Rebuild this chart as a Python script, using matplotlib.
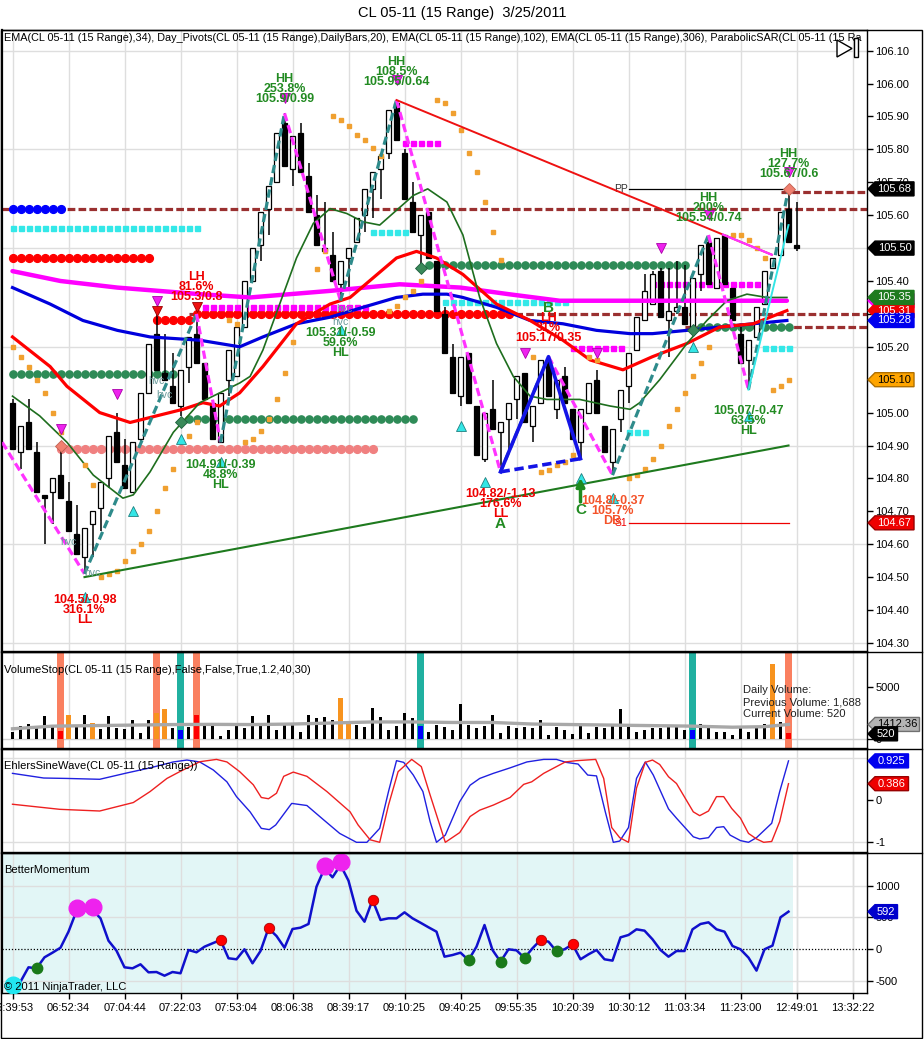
import numpy as np
import matplotlib
matplotlib.use("Agg")
import matplotlib.pyplot as plt
from matplotlib.transforms import blended_transform_factory, IdentityTransform
from matplotlib.patches import Polygon, Rectangle
from matplotlib.lines import Line2D

plt.rcParams['font.family'] = ['Liberation Sans', 'DejaVu Sans']

# ---------------- data ----------------
opens = [105.03, 104.88, 104.97, 104.88, 104.75, 104.76, 104.81, 104.73, 104.63, 104.56,
         104.66, 104.71, 104.80, 104.94, 104.84, 104.76, 104.92, 105.06, 105.24, 105.12,
         105.08, 105.02, 105.14, 105.24, 105.15, 105.03, 104.91, 105.10, 105.11, 105.26,
         105.40, 105.51, 105.62, 105.70, 105.88, 105.74, 105.85, 105.72, 105.60, 105.50,
         105.48, 105.39, 105.47, 105.52, 105.60, 105.68, 105.74, 105.79, 105.94, 105.79,
         105.64, 105.54, 105.61, 105.46, 105.30, 105.17, 105.05, 105.18, 105.02, 104.86,
         105.01, 104.94, 104.98, 105.04, 105.12, 104.96, 105.03, 105.16, 105.01, 105.11,
         105.01, 104.91, 105.00, 105.10, 104.96, 104.85, 104.98, 105.08, 105.19, 105.28,
         105.33, 105.43, 105.28, 105.31, 105.32, 105.25, 105.42, 105.52, 105.38, 105.54,
         105.38, 105.24, 105.16, 105.23, 105.33, 105.44, 105.48, 105.62, 105.51]
highs = [105.04, 104.96, 105.04, 104.91, 104.75, 104.80, 104.91, 104.79, 104.72, 104.65,
         104.70, 104.79, 104.93, 105.00, 104.92, 104.91, 105.06, 105.21, 105.30, 105.24,
         105.18, 105.13, 105.23, 105.30, 105.15, 105.03, 105.06, 105.19, 105.26, 105.40,
         105.50, 105.61, 105.69, 105.85, 105.91, 105.84, 105.88, 105.76, 105.66, 105.64,
         105.55, 105.46, 105.50, 105.59, 105.68, 105.73, 105.78, 105.92, 105.95, 105.80,
         105.70, 105.60, 105.61, 105.46, 105.32, 105.21, 105.17, 105.18, 105.02, 105.00,
         105.10, 104.97, 105.03, 105.11, 105.12, 105.02, 105.16, 105.17, 105.10, 105.14,
         105.01, 105.01, 105.09, 105.13, 104.96, 104.95, 105.07, 105.18, 105.29, 105.42,
         105.43, 105.44, 105.44, 105.46, 105.45, 105.41, 105.51, 105.54, 105.53, 105.54,
         105.38, 105.26, 105.22, 105.32, 105.43, 105.47, 105.61, 105.68, 105.64]
lows = [104.89, 104.83, 104.89, 104.76, 104.60, 104.66, 104.74, 104.64, 104.57, 104.51,
        104.56, 104.64, 104.77, 104.85, 104.77, 104.76, 104.91, 105.06, 105.13, 105.10,
        105.03, 104.99, 105.09, 105.15, 105.04, 104.92, 104.91, 105.05, 105.11, 105.26,
        105.40, 105.46, 105.54, 105.70, 105.75, 105.69, 105.73, 105.61, 105.51, 105.49,
        105.40, 105.34, 105.38, 105.52, 105.55, 105.59, 105.65, 105.77, 105.83, 105.65,
        105.55, 105.45, 105.47, 105.31, 105.18, 105.06, 105.02, 105.03, 104.87, 104.85,
        104.95, 104.82, 104.88, 104.98, 104.97, 104.91, 105.03, 105.05, 104.98, 105.03,
        104.92, 104.86, 105.00, 105.00, 104.88, 104.81, 104.94, 105.03, 105.19, 105.28,
        105.33, 105.29, 105.17, 105.30, 105.27, 105.25, 105.37, 105.39, 105.38, 105.39,
        105.28, 105.15, 105.07, 105.23, 105.33, 105.44, 105.48, 105.52, 105.49]
closes = [104.89, 104.96, 104.89, 104.76, 104.74, 104.80, 104.74, 104.64, 104.57, 104.65,
          104.70, 104.79, 104.93, 104.85, 104.77, 104.91, 105.06, 105.21, 105.13, 105.10,
          105.03, 105.13, 105.23, 105.15, 105.04, 104.92, 105.06, 105.19, 105.26, 105.40,
          105.50, 105.61, 105.69, 105.85, 105.75, 105.84, 105.73, 105.61, 105.51, 105.49,
          105.40, 105.46, 105.50, 105.59, 105.68, 105.73, 105.78, 105.92, 105.83, 105.65,
          105.55, 105.60, 105.47, 105.31, 105.18, 105.06, 105.17, 105.03, 104.87, 105.00,
          104.95, 104.97, 105.03, 105.11, 104.97, 105.02, 105.16, 105.05, 105.10, 105.03,
          104.92, 105.01, 105.09, 105.00, 104.88, 104.95, 105.07, 105.18, 105.29, 105.37,
          105.42, 105.29, 105.31, 105.32, 105.27, 105.41, 105.51, 105.39, 105.53, 105.39,
          105.28, 105.15, 105.22, 105.32, 105.43, 105.47, 105.61, 105.52, 105.50]

time_labels = ['06:39:53', '06:52:34', '07:04:44', '07:22:03', '07:53:04', '08:06:38',
               '08:39:17', '09:10:25', '09:40:25', '09:55:35', '10:20:39', '10:30:12',
               '11:03:34', '11:23:00', '12:49:01', '13:32:22']
label_step = 7

# moving averages (bar, value)
ema34_x = [0, 3.4, 6.8, 10.1, 13.8, 15.1, 17.2, 20.1, 23.4, 25.9, 28.4, 29.7, 31.3, 33.4, 35.5, 37.6,
           39.7, 41.8, 43.8, 45.9, 48, 50.1, 51.9, 54.3, 56.3, 58.4, 60.5, 62.6, 64.7, 66.8, 70.9,
           74.7, 77.2, 78.4, 80.9, 84.3, 86.8, 89.3, 91.8, 94.3, 96.8]
ema34_y = [105.05, 104.99, 104.91, 104.81, 104.74, 104.75, 104.82, 104.94, 105.03, 105.06, 105.09,
           105.11, 105.19, 105.33, 105.47, 105.575, 105.62, 105.605, 105.58, 105.57, 105.615, 105.66,
           105.68, 105.64, 105.54, 105.35, 105.21, 105.11, 105.05, 105.04, 105.04, 105.02, 105.01,
           105.03, 105.10, 105.21, 105.28, 105.34, 105.36, 105.35, 105.35]
ema102_x = [0, 4.7, 6.8, 10.9, 14.7, 18, 21.3, 23.8, 25.9, 28.4, 31.3, 35.5, 39.7, 42.2, 45.1, 48,
            50.5, 53, 56.3, 60.5, 64.7, 68.8, 72.2, 76.3, 80, 84.3, 88.4, 92.6, 96.8]
ema102_y = [105.23, 105.14, 105.08, 105.00, 104.97, 104.99, 105.01, 105.03, 105.02, 105.06, 105.14,
            105.27, 105.33, 105.35, 105.41, 105.47, 105.49, 105.47, 105.42, 105.33, 105.28, 105.22,
            105.16, 105.13, 105.17, 105.21, 105.26, 105.27, 105.31]
ema306_x = [0, 4.7, 8.8, 13.1, 17.2, 23.4, 28.4, 31.3, 35.5, 39.7, 43.8, 48, 51.3, 54.3, 56.3, 60.5,
            64.7, 68.8, 73, 77.2, 80, 84.3, 88.4, 92.6, 96.8]
ema306_y = [105.38, 105.33, 105.28, 105.25, 105.23, 105.22, 105.20, 105.23, 105.27, 105.29, 105.32,
            105.35, 105.36, 105.36, 105.35, 105.32, 105.28, 105.27, 105.25, 105.24, 105.24, 105.25,
            105.26, 105.27, 105.28]
emaM_x = [0, 6, 13.1, 23.4, 29.7, 39.7, 48.4, 56, 62, 68.4, 76, 86, 96.8]
emaM_y = [105.43, 105.40, 105.38, 105.36, 105.35, 105.37, 105.39, 105.38, 105.36, 105.34, 105.34,
          105.34, 105.34]

sar_bars = [0, 1, 2, 3, 4, 5, 6, 9, 10, 11, 12, 13, 14, 15, 16, 17, 18, 19, 20, 22, 23, 27, 28,
            29, 30, 31, 32, 33, 34, 35, 38, 39, 40, 41, 42, 43, 44, 45, 46, 47, 48, 49, 50, 51,
            53, 54, 55, 56, 57, 58, 59, 60, 61, 65, 66, 67, 68, 69, 70, 72, 73, 77, 78, 79, 80,
            81, 82, 83, 84, 85, 86, 87, 90, 91, 92, 93, 94, 95, 96, 97]
sar_vals = [105.20, 105.17, 105.14, 105.10, 105.06, 105.00, 104.94, 104.84, 104.78, 104.50, 104.51,
            104.52, 104.55, 104.58, 104.60, 104.64, 104.70, 104.77, 104.83, 104.93, 104.97, 105.28,
            105.27, 104.91, 104.92, 104.945, 104.98, 105.04, 105.12, 105.215, 105.435, 105.49,
            105.90, 105.89, 105.87, 105.845, 105.83, 105.805, 105.78, 105.31, 105.325, 105.35,
            105.37, 105.40, 105.95, 105.94, 105.91, 105.86, 105.79, 105.73, 105.64, 105.55, 105.465,
            105.17, 104.82, 104.825, 104.84, 104.85, 104.87, 105.17, 105.16, 104.80, 104.81, 104.83,
            104.86, 104.90, 104.96, 105.01, 105.06, 105.11, 105.15, 105.20, 105.54, 105.54, 105.525,
            105.50, 105.47, 105.07, 105.08, 105.10]

# zigzag swing points
swing_bars = [-1.3, 9, 23, 26, 34, 41, 48, 61, 67, 75, 87, 92, 97]
swing_prices = [104.91, 104.51, 105.30, 104.91, 105.91, 105.34, 105.95, 104.82, 105.17, 104.81,
                105.54, 105.07, 105.68]
abc_bars = [61, 67, 71]
abc_prices = [104.82, 105.17, 104.86]
res_line_bars = [48, 94.9]
res_line_prices = [105.95, 105.48]
sup_line_bars = [9, 97]
sup_line_prices = [104.50, 104.90]

# horizontal level dots: (first bar, last bar, price)
blue_dots = [(0, 6, 105.62)]
red_dots = [(0, 17, 105.47), (18, 22, 105.28), (23, 62, 105.30)]
green_dots = [(0, 20, 105.117), (22, 50, 104.98), (52, 84, 105.45), (86, 97, 105.26)]
coral_dots = [(6, 45, 104.89)]
cyan_sq = [(0, 23, 105.56), (45, 49, 105.55), (54, 69, 105.335), (77, 79, 104.94), (94, 97, 105.195)]
magenta_sq = [(24, 44, 105.32), (49, 53, 105.82), (70, 76, 105.195), (80, 93, 105.39)]
pivot_dashes = [(-1.3, 106.8, 105.62), (96, 106.8, 105.67), (22, 106.8, 105.30), (84, 106.8, 105.26)]
pp_level = 105.68
s1_level = 104.665
pp_range = (77, 97)

tri_down_magenta = [(6, 104.95), (13, 105.057), (18, 105.34), (34, 105.955), (48, 106.01),
                    (64, 105.18), (73, 105.18), (81, 105.50), (87, 105.60), (97, 105.73)]
tri_down_red = [(18, 105.31), (23, 105.32)]
tri_up_cyan = [(9, 104.44), (15, 104.70), (21, 104.92), (26, 104.85), (41, 105.25), (56, 104.96),
               (59, 104.79), (71, 104.80), (75, 104.74), (85, 105.20), (92, 104.99)]
diam_green = [(21, 104.97), (51, 105.44), (85, 105.25)]
diam_pink = [(6, 104.90), (97, 105.68)]

volumes = [650, 1235, 1420, 1080, 2250, 1330, 770, 2350, 1330, 2350,
           1510, 960, 2250, 1110, 960, 1790, 620, 1790, 2470, 2870,
           1080, 865, 1170, 2280, 1450, 1420, 340, 865, 1420, 1110,
           2250, 1480, 2350, 865, 1540, 1420, 650, 2350, 2070, 2130,
           1880, 3950, 1640, 1330, 1170, 2960, 2100, 865, 1235, 2500,
           2070, 1265, 650, 1330, 1170, 865, 3330, 1390, 1080, 1265,
           2350, 620, 1235, 1080, 1170, 1080, 1790, 400, 1170, 865,
           460, 1330, 620, 1170, 1080, 1480, 2870, 1170, 650, 865,
           1080, 1110, 1265, 1265, 865, 865, 1420, 1330, 650, 710,
           400, 1235, 650, 1170, 1480, 7190, 1640, 620]
vol_orange = [7, 10, 18, 19, 41, 42, 95]
vol_red = [6, 23, 97]
vol_blue = [21, 51, 85]
band_coral = [6, 18, 23, 97]
band_teal = [21, 51, 85]
volavg_x = [0, 5, 10, 15, 20, 25, 30, 35, 40, 45, 50, 55, 60, 65, 70, 75, 80, 85, 90, 94, 97]
volavg_y = [1000, 1250, 1300, 1350, 1400, 1420, 1400, 1450, 1550, 1650, 1650, 1600, 1600, 1450,
            1400, 1350, 1300, 1250, 1150, 1200, 1412.36]
current_volume = 520

sine_x = [0, 3.9, 6.8, 10.9, 14.3, 17.2, 20.1, 21.8, 23.4, 25.1, 26.8, 28.0, 29.7, 31.1, 32.1, 32.9,
          34.9, 36.8, 38.9, 40.9, 43.0, 44.3, 45.9, 47.0, 48.0, 48.9, 50.1, 51.3, 52.2, 53.0, 54.1,
          55.9, 57.2, 58.4, 60.1, 62.2, 64.3, 66.4, 68.0, 69.2, 70.7, 71.9, 73.0, 74.1, 75.1, 75.9,
          77.0, 78.0, 79.1, 80.1, 82.0, 83.0, 85.1, 85.9, 87.0, 88.0, 88.9, 89.7, 91.0, 92.0, 93.0,
          94.9, 95.9, 97.0]
sine_y = [0.63, 0.52, 0.51, 0.49, 0.64, 0.76, 0.90, 0.945, 0.90, 0.71, 0.43, 0.08, -0.28, -0.67,
          -0.70, -0.59, -0.08, -0.13, -0.47, -0.79, -1.0, -1.0, -0.67, 0.20, 0.93, 0.89, 0.59, 0.20,
          -0.51, -1.0, -0.83, -0.04, 0.35, 0.51, 0.63, 0.76, 0.90, 0.96, 0.96, 0.89, 0.85, 0.59, 0.57,
          -0.28, -1.0, -0.97, -0.65, 0.51, 0.90, 0.59, -0.21, -0.43, -0.87, -0.92, -0.89, -0.65,
          -0.63, -0.83, -0.96, -1.0, -0.89, -0.55, 0.20, 0.925]
lead_x = [0, 5.9, 10.9, 15.1, 17.2, 19.3, 20.9, 23.4, 25.5, 26.8, 28.4, 30.1, 31.1, 32, 33, 33.9,
          35.1, 36.8, 39.3, 42.2, 43.2, 44.7, 45.9, 47.0, 48.2, 49.9, 51.1, 52.2, 54.1, 55.9, 57.2,
          58.4, 60.1, 62.2, 63.9, 64.9, 66.4, 68.0, 69.1, 70.5, 72.9, 73.9, 74.9, 75.9, 77.0, 78.0,
          79.1, 80.0, 80.9, 82.0, 83.0, 85.1, 85.9, 87.0, 88.0, 88.9, 89.9, 91.0, 92.0, 93.0, 93.9,
          94.9, 95.9, 97.0]
lead_y = [-0.10, -0.22, -0.26, -0.06, 0.20, 0.51, 0.67, 0.905, 0.96, 0.90, 0.67, 0.36, 0.06, 0.03,
          0.16, 0.56, 0.66, 0.56, 0.20, -0.28, -0.59, -0.94, -1.0, -0.12, 0.67, 0.96, 0.79, 0.12,
          -1.0, -0.77, -0.39, -0.24, -0.12, 0.06, 0.37, 0.43, 0.63, 0.79, 0.90, 0.93, 0.96, 0.51,
          -0.65, -0.89, -1.0, 0.28, 0.89, 0.945, 0.84, 0.55, 0.39, -0.28, -0.37, -0.26, 0.08, 0.08,
          -0.20, -0.43, -0.79, -0.92, -1.0, -0.98, -0.51, 0.386]

momentum = [-561, -509, -283, -299, -126, -53, 25, 277, 602, 607,
            618, 487, 135, -22, -283, -299, -236, -362, -357, -415,
            -357, -377, -11, -47, 41, 94, 146, -141, -157, 0,
            -220, -27, 330, 209, 25, 319, 340, 398, 984, 1273,
            1132, 1325, 1079, 607, 434, 775, 461, 487, 487, 581,
            487, 418, 346, 277, -116, -90, -53, -170, 41, 382,
            -11, -195, 0, -16, -136, 16, 146, 120, -32, 0,
            78, -157, -79, -11, -157, -178, 188, 225, 314, 293,
            157, -11, -116, -27, -27, 314, 398, 424, 314, 277,
            52, 0, -131, -335, 0, 58, 503, 592]
mom_cyan = [0]
mom_green = [3, 57, 61, 64, 68]
mom_red = [26, 32, 45, 66, 70]
mom_magenta = [8, 10, 39, 41]

# ---------------- figure ----------------
W, H = 924, 1039
fig = plt.figure(figsize=(W / 100, H / 100), dpi=100)
IDT = IdentityTransform()


def rect(x0, y0, x1, y1):
    return [x0 / W, 1 - y1 / H, (x1 - x0) / W, (y1 - y0) / H]


ax = fig.add_axes(rect(2, 30, 867, 651))
axv = fig.add_axes(rect(2, 652, 867, 748))
axe = fig.add_axes(rect(2, 749, 867, 852))
axm = fig.add_axes(rect(2, 853, 867, 993))

XMIN, XMAX = -1.3125, 106.8125
tick_idx = [i * label_step for i in range(len(time_labels))]
GRID = '#dedede'
for a in (ax, axv, axe, axm):
    a.set_xlim(XMIN, XMAX)
    for sp in a.spines.values():
        sp.set_color('black')
        sp.set_linewidth(1)
    a.spines['left'].set_linewidth(1.6)
    for t in tick_idx:
        a.axvline(t, color=GRID, lw=1, zorder=0)
    a.yaxis.tick_right()
    a.tick_params(axis='y', direction='out', length=4, width=1, labelsize=8, pad=2)
    a.set_xticks([])

# ---------- main panel ----------
ax.set_ylim(104.2754, 106.1629)
yt = np.round(np.arange(104.30, 106.101, 0.10), 2)
hidden_ticks = {105.50, 105.30, 105.10}   # fully covered by the value tags in the reference
ax.set_yticks(yt)
ax.set_yticklabels(['' if round(v, 2) in hidden_ticks else f"{v:.2f}" for v in yt])
for v in np.round(np.arange(104.30, 106.11, 0.30), 2):
    ax.axhline(v, color=GRID, lw=1, zorder=0)

BROWN = '#9a3030'
for x0, x1, p in pivot_dashes:
    ax.plot([x0, x1], [p, p], color=BROWN, lw=2.3, ls=(0, (2.4, 1.0)), zorder=2)


def dots(specs, color, marker, ms, z=3):
    for a0, a1, p in specs:
        xs = np.arange(a0, a1 + 1)
        ax.plot(xs, np.full(len(xs), p), ls='none', marker=marker, ms=ms, color=color,
                mec=color, zorder=z)


dots(green_dots, '#2e8b57', 'o', 5.2)
dots(coral_dots, '#f08080', 'o', 5.6)
dots(red_dots, '#ff0000', 'o', 5.6)
dots(blue_dots, '#0000ff', 'o', 5.6)
dots(cyan_sq, '#33e8e8', 's', 3.6)
dots(magenta_sq, '#ff00ff', 's', 3.6)

ax.plot(pp_range, [pp_level, pp_level], color='black', lw=0.9, zorder=3)
ax.plot(pp_range, [s1_level, s1_level], color='#ee0000', lw=0.9, zorder=3)
ax.text(pp_range[0] - 0.9, pp_level, 'PP', fontsize=7.5, color='#333333', ha='center', va='center', zorder=3)
ax.text(pp_range[0] - 0.9, s1_level, 'S1', fontsize=7.5, color='#ee0000', ha='center', va='center', zorder=3)

# candles
o = np.array(opens); h = np.array(highs); l = np.array(lows); c = np.array(closes)
idx = np.arange(len(c))
up = c >= o
ax.vlines(idx, l, h, color='black', lw=1.1, zorder=4)
ax.bar(idx, np.maximum(np.abs(c - o), 0.006), bottom=np.minimum(o, c), width=0.74,
       color=np.where(up, 'white', 'black'), edgecolor='black', linewidth=0.9, zorder=5)

# moving averages
ax.plot(emaM_x, emaM_y, color='#ff00ff', lw=3.2, zorder=6, solid_capstyle='round')
ax.plot(ema306_x, ema306_y, color='#0000dd', lw=2.3, zorder=6)
ax.plot(ema102_x, ema102_y, color='#ff0000', lw=2.3, zorder=6)
ax.plot(ema34_x, ema34_y, color='#1e6e1e', lw=1.2, zorder=6)

# parabolic SAR
ax.plot(sar_bars, sar_vals, ls='none', marker='s', ms=3.3, color='#f0a030', mec='#f0a030', zorder=6)

# zigzag
for k in range(len(swing_bars) - 1):
    xs = swing_bars[k:k + 2]
    ys = swing_prices[k:k + 2]
    down = ys[1] < ys[0]
    ax.plot(xs, ys, color='#ff33ff' if down else '#2e8b8b', lw=2.3,
            ls=(0, (2.6, 1.3)), zorder=7)
ax.plot(abc_bars, abc_prices, color='#1414e6', lw=2.6, zorder=7)
ax.plot([abc_bars[0], abc_bars[2]], [abc_prices[0], abc_prices[2]], color='#1414e6', lw=2.6,
        ls=(0, (2.6, 1.3)), zorder=7)
ax.plot([swing_bars[-2], swing_bars[-1]], [swing_prices[-2], closes[-3] - 0.04], color='#33e6e6',
        lw=1.4, zorder=7)
ax.plot(res_line_bars, res_line_prices, color='#ee1111', lw=1.4, zorder=7)
ax.plot([swing_bars[-3] + 1.8, res_line_bars[1]],
        [np.interp(swing_bars[-3] + 1.8, res_line_bars, res_line_prices), res_line_prices[1]],
        color='#ff33ff', lw=1.6, zorder=7)
ax.plot(sup_line_bars, sup_line_prices, color='#1e7a1e', lw=1.5, zorder=7)


# markers
def pts(lst):
    return [p[0] for p in lst], [p[1] for p in lst]


xm, ym = pts(tri_down_magenta)
ax.plot(xm, ym, ls='none', marker='v', ms=6.5, color='#ee22ee', mec='#aa00aa', mew=0.6, zorder=8)
xm, ym = pts(tri_down_red)
ax.plot(xm, ym, ls='none', marker='v', ms=6.5, color='#ee1111', mec='#990000', mew=0.6, zorder=8)
xm, ym = pts(tri_up_cyan)
ax.plot(xm, ym, ls='none', marker='^', ms=6.5, color='#33e6e6', mec='#208080', mew=0.6, zorder=8)
xm, ym = pts(diam_green)
ax.plot(xm, ym, ls='none', marker='D', ms=6.5, color='#3a8a5a', mec='#1e5e3e', mew=0.6, zorder=8)
xm, ym = pts(diam_pink)
ax.plot(xm, ym, ls='none', marker='D', ms=6.5, color='#f08070', mec='#c06050', mew=0.6, zorder=8)
ax.annotate('', xy=(71, 104.81), xytext=(71, 104.72),
            arrowprops=dict(arrowstyle='-|>', color='#1e8a1e', lw=2.5, mutation_scale=12), zorder=8)

GREEN = '#228b22'
RED = '#ee0000'
ORANGE_RED = '#f4532a'


def stack(xb, p0, lines, color, fs=9):
    for k, s in enumerate(lines):
        ax.annotate(s, xy=(xb, p0), xytext=(0, -10 * k), textcoords='offset pixels',
                    ha='center', va='center', fontsize=fs, fontweight='bold', color=color,
                    zorder=9)


stack(34, 106.014, ['HH', '253.8%', '105.9/0.99'], GREEN)
stack(48, 106.066, ['HH', '108.5%', '105.95/0.64'], GREEN)
stack(41, 105.242, ['105.31/-0.59', '59.6%', 'HL'], GREEN)
stack(26, 104.841, ['104.91/-0.39', '48.8%', 'HL'], GREEN)
stack(87, 105.652, ['HH', '200%', '105.54/0.74'], GREEN)
stack(97, 105.786, ['HH', '127.7%', '105.67/0.6'], GREEN)
stack(92, 105.005, ['105.07/-0.47', '63.5%', 'HL'], GREEN)
stack(23, 105.412, ['LH', '81.6%', '105.3/0.8'], RED)
stack(9, 104.430, ['104.5/-0.98', '316.1%', 'LL'], RED)
stack(61, 104.753, ['104.82/-1.13', '176.6%', 'LL'], RED)
stack(67, 105.288, ['LH', '31%', '105.17/0.35'], RED)
stack(75, 104.731, ['104.8/-0.37', '105.7%', 'DB'], ORANGE_RED)
stack(67, 105.318, ['B'], GREEN, fs=11)
stack(61, 104.661, ['A'], GREEN, fs=11)
stack(71, 104.704, ['C'], GREEN, fs=11)
for xb, p in [(7, 104.607), (10, 104.512), (18, 105.096), (19, 105.053), (41, 105.275), (41.5, 105.315)]:
    ax.text(xb, p, 'hvc', fontsize=7.5, color='#6a9a9a', ha='center', va='center', zorder=9)

ax.text(0.002, 0.987, 'EMA(CL 05-11 (15 Range),34), Day_Pivots(CL 05-11 (15 Range),DailyBars,20), '
        'EMA(CL 05-11 (15 Range),102), EMA(CL 05-11 (15 Range),306), ParabolicSAR(CL 05-11 (15 Ra',
        transform=ax.transAxes, fontsize=7.8, ha='left', va='center', zorder=10)

# ---------- volume panel ----------
axv.set_ylim(-827, 8299)
axv.set_yticks([0, 5000])
axv.set_yticklabels(['0', '5000'])
axv.axhline(0, color='#d0d0d0', lw=1, zorder=0)
for b in band_coral:
    axv.axvspan(b - 0.47, b + 0.47, color='#fa8060', lw=0, zorder=1)
for b in band_teal:
    axv.axvspan(b - 0.45, b + 0.45, color='#20b0a0', lw=0, zorder=1)
vidx = np.arange(len(volumes))
special = set(vol_orange) | set(vol_red) | set(vol_blue)
blk = [i for i in vidx if i not in special]
axv.bar(blk, [volumes[i] for i in blk], width=0.3, color='black', zorder=2)
axv.bar(vol_orange, [volumes[i] for i in vol_orange], width=0.68, color='#f7931e', zorder=2)
axv.bar(vol_red, [volumes[i] for i in vol_red], width=0.68, color='#ff0000', zorder=2)
axv.bar(vol_blue, [volumes[i] for i in vol_blue], width=0.68, color='#0000ff', zorder=2)
axv.plot(volavg_x, volavg_y, color='#a8a8a8', lw=2.4, zorder=3)
axv.text(0.002, 0.81, 'VolumeStop(CL 05-11 (15 Range),False,False,True,1.2,40,30)',
         transform=axv.transAxes, fontsize=8, ha='left', va='center')
for k, s in enumerate(['Daily Volume:', 'Previous Volume: 1,688', 'Current Volume: ' + str(current_volume)]):
    axv.text(0.8566, 0.60 - 0.125 * k, s, transform=axv.transAxes, fontsize=8, ha='left',
             va='center', color='#222222', zorder=5)

# ---------- Ehlers panel ----------
axe.set_ylim(-1.229, 1.206)
axe.set_yticks([-1, 0])
axe.set_yticklabels(['-1', '0'])
axe.axhline(-1, color=GRID, lw=1, zorder=0)
axe.axhline(1, color=GRID, lw=1, zorder=0)
axe.plot(sine_x, sine_y, color='#2020e0', lw=1, zorder=3)
axe.plot(lead_x, lead_y, color='#ee2020', lw=1, zorder=3)
axe.text(0.002, 0.835, 'EhlersSineWave(CL 05-11 (15 Range))', transform=axe.transAxes,
         fontsize=8, ha='left', va='center', zorder=5)

# ---------- momentum panel ----------
axm.set_ylim(-687, 1514)
axm.axvspan(XMIN, len(momentum) - 0.5, color='#e2f6f6', lw=0, zorder=0)
for t in tick_idx:
    axm.axvline(t, color=GRID, lw=1, zorder=0.5)
for v in (-500, 500, 1000):
    axm.axhline(v, color=GRID, lw=1, zorder=0.5)
axm.axhline(0, color='black', lw=0.9, ls=(0, (1, 1.5)), zorder=1)
axm.set_yticks([-500, 0, 500, 1000])
axm.set_yticklabels(['-500', '0', '500', '1000'])
midx = np.arange(len(momentum))
axm.plot(midx, momentum, color='#1010cc', lw=1.8, zorder=3)
axm.plot(mom_cyan, [momentum[i] for i in mom_cyan], ls='none', marker='o', ms=12, color='#22e6f0', zorder=4)
axm.plot(mom_magenta, [momentum[i] + 40 for i in mom_magenta], ls='none', marker='o', ms=12,
         color='#ee22ee', zorder=4)
axm.plot(mom_green, [momentum[i] for i in mom_green], ls='none', marker='o', ms=7.5,
         color='#1a7a1a', zorder=4)
axm.plot(mom_red, [momentum[i] for i in mom_red], ls='none', marker='o', ms=7.5,
         color='#ff0000', mec='#aa0000', mew=0.6, zorder=4)
axm.set_xticks(tick_idx)
axm.set_xticklabels(time_labels, fontsize=8)
axm.tick_params(axis='x', direction='out', length=4, width=1, pad=3)
axm.text(0.002, 0.879, 'BetterMomentum', transform=axm.transAxes, fontsize=8, ha='left', va='center')
axm.text(0.002, 0.045, '\u00a9 2011 NinjaTrader, LLC', transform=axm.transAxes, fontsize=8,
         ha='left', va='center', zorder=5)

# ---------- title / frame ----------
fig.text(0.5, 1 - 13 / H, 'CL 05-11 (15 Range)  3/25/2011', ha='center', va='center', fontsize=10.5)
fig.add_artist(Rectangle((1 / W, 1 - 1038 / H), 921 / W, (1038 - 30) / H, transform=fig.transFigure,
                         fill=False, ec='black', lw=1, zorder=30))
for yy in (651.5, 748.5, 852.5):
    fig.add_artist(Line2D([1 / W, 922 / W], [1 - yy / H, 1 - yy / H], transform=fig.transFigure,
                          color='black', lw=1, zorder=30))
# small "go to end" icon
fig.add_artist(Polygon([(837, H - 40), (837, H - 57), (852, H - 48.5)], closed=True, transform=IDT,
                       fc='white', ec='black', lw=1, zorder=31))
fig.add_artist(Rectangle((854, H - 57), 4, 19, transform=IDT, fc='white', ec='black', lw=1, zorder=31))


# ---------- value tags on the price axes ----------
def tag(axis, val, label, fc, tc='white', ec=None, z=40, show_text=True):
    tr = blended_transform_factory(axis.transAxes, axis.transData)
    x0, y0 = tr.transform((1.0, val))
    wbox = 5.5 * len(label) + 6
    hh = 7
    xs = x0 + 8
    poly = Polygon([(x0 + 1, y0), (xs, y0 + hh), (xs + wbox, y0 + hh), (xs + wbox, y0 - hh),
                    (xs, y0 - hh)], closed=True, transform=IDT, facecolor=fc,
                   edgecolor=ec or fc, lw=1, zorder=z)
    fig.add_artist(poly)
    if show_text:
        fig.text(xs + wbox / 2, y0, label, transform=IDT, ha='center', va='center', fontsize=8,
                 color=tc, zorder=z + 1)


tag(ax, pp_level, f"{pp_level:.2f}", 'black')
tag(ax, closes[-1], f"{closes[-1]:.2f}", 'black')
tag(ax, emaM_y[-1], f"{emaM_y[-1]:.2f}", '#ff00ff', show_text=False)
tag(ax, ema102_y[-1], f"{ema102_y[-1]:.2f}", '#ee0000')
tag(ax, ema34_y[-1], f"{ema34_y[-1]:.2f}", '#1e7b1e')
tag(ax, ema306_y[-1], f"{ema306_y[-1]:.2f}", '#0000ee')
tag(ax, sar_vals[-1], f"{sar_vals[-1]:.2f}", '#ffa500', tc='black', ec='#b07000')
tag(ax, s1_level, f"{s1_level:.2f}", '#ee0000', ec='#990000')
tag(axv, volavg_y[-1], f"{volavg_y[-1]:.2f}", '#b4b4b4', tc='black', ec='#707070')
tag(axv, current_volume, str(current_volume), 'black')
tag(axe, sine_y[-1], f"{sine_y[-1]:.3f}", '#0000ee')
tag(axe, lead_y[-1], f"{lead_y[-1]:.3f}", '#ee0000', ec='#990000')
tag(axm, momentum[-1], str(momentum[-1]), '#0000cc')

fig.savefig('out.png', dpi=100)
